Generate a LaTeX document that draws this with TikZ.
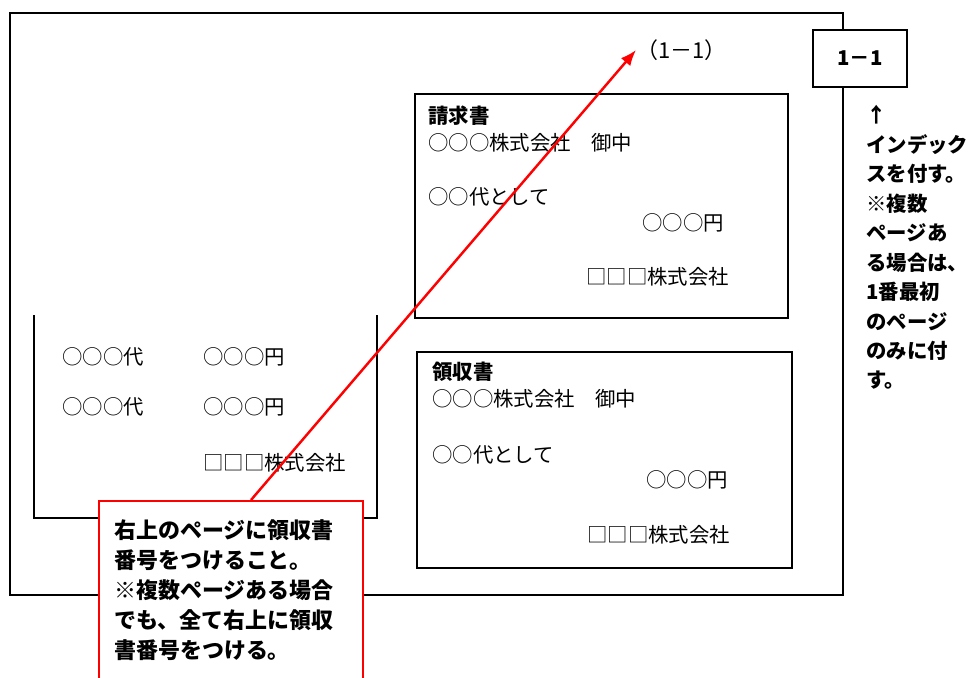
\documentclass[tikz,border=0pt]{standalone}
\usepackage{fontspec}
\setmainfont{Noto Sans CJK JP}
\usetikzlibrary{arrows.meta}

\begin{document}
\begin{tikzpicture}[x=0.02cm, y=-0.02cm,
    frame/.style={draw, line width=1.1pt},
    bill/.style={frame, anchor=north west, inner sep=0pt},
    txt/.style={anchor=west, inner sep=0pt, font=\fontsize{11.6pt}{14pt}\selectfont},
    title/.style={txt, font=\fontsize{11.6pt}{14pt}\selectfont\bfseries},
    note/.style={draw=red, line width=1.4pt, fill=white, anchor=north west,
        inner xsep=0.3cm, inner ysep=0.36cm, font=\fontsize{12.5pt}{17.2pt}\selectfont\bfseries},
    pointer/.style={red, line width=1.4pt, -{Latex[length=9pt, width=7pt]}}]
  \useasboundingbox (0,0) rectangle (969,677);

  % page and the paper stuck on it
  \draw[frame] (10,13) rectangle (843,595);
  \draw[frame] (34,315) -- (34,518) -- (377,518) -- (377,315);

  \node[txt] (item1) at (62,357) {○○○代};
  \node[txt] (yen1) at (203,357) {○○○円};
  \node[txt] (item2) at (62,407) {○○○代};
  \node[txt] (yen2) at (203,407) {○○○円};
  \node[txt] (firm0) at (203,463) {□□□株式会社};

  % bill
  \node[bill, minimum width=7.46cm, minimum height=4.48cm] (seikyu) at (414,93) {};
  \node[title] (seikyu-title) at (428,116) {請求書};
  \node[txt] (seikyu-to) at (428,143) {○○○株式会社　御中};
  \node[txt] (seikyu-for) at (428,197) {○○代として};
  \node[txt] (seikyu-yen) at (642,223) {○○○円};
  \node[txt] (seikyu-from) at (586,277) {□□□株式会社};

  % receipt
  \node[bill, minimum width=7.5cm, minimum height=4.32cm] (ryoshu) at (416,351) {};
  \node[title] (ryoshu-title) at (432,372) {領収書};
  \node[txt] (ryoshu-to) at (432,399) {○○○株式会社　御中};
  \node[txt] (ryoshu-for) at (432,455) {○○代として};
  \node[txt] (ryoshu-yen) at (646,480) {○○○円};
  \node[txt] (ryoshu-from) at (587,535) {□□□株式会社};

  % index
  \node[frame, fill=white, minimum width=1.88cm, minimum height=1.14cm,
        font=\fontsize{11.6pt}{14pt}\selectfont\bfseries] (index) at (860,58.5) {1－1};
  \foreach \line [count=\i] in {↑,インデック,スを付す。,※複数,ページあ,る場合は、,1番最初,のページ,のみに付,す。}
  {
      \node[title] (idx\i) at (866,85.5+29.5*\i) {\line};
  }

  \node[txt, font=\fontsize{12.5pt}{14pt}\selectfont] (pageno) at (636,50) {（1－1）};

  % note
  \node[note] (note) at (98,500)
      {\parbox[t][3.3cm][t]{4.68cm}{右上のページに領収書\\番号をつけること。\\※複数ページある場合\\でも、全て右上に領収\\書番号をつける。}};
  \coordinate (notetop) at (251,500);
  \draw[pointer] (notetop) -- (pageno.west);
\end{tikzpicture}
\end{document}
